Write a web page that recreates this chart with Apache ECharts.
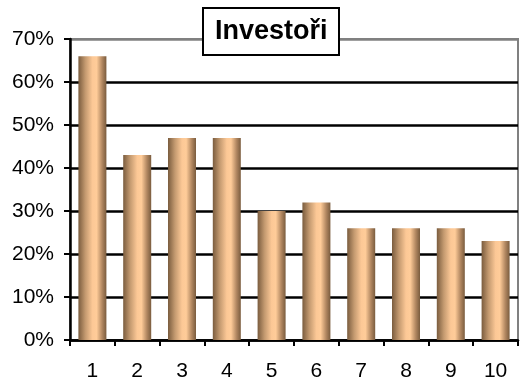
<!DOCTYPE html>
<html>
<head>
<meta charset="utf-8">
<script src="https://cdn.jsdelivr.net/npm/echarts@6/dist/echarts.min.js"></script>
<style>html,body{margin:0;padding:0;background:#fff}#c{width:521px;height:382px}</style>
</head>
<body>
<div id="c"></div>
<script>
var categories = ['1','2','3','4','5','6','7','8','9','10'];
var values = [66, 43, 47, 47, 30, 32, 26, 26, 26, 23];
var titleText = 'Investoři';

var chart = echarts.init(document.getElementById('c'), null, {renderer:'canvas'});
var font = '"Liberation Sans", Arial, sans-serif';
chart.setOption({
  animation: false,
  title: {
    text: titleText,
    left: 203, top: 8,
    padding: [10, 12, 10, 12],
    backgroundColor: '#fff',
    borderColor: '#000',
    borderWidth: 2,
    textStyle: {fontFamily: font, fontSize: 27, fontWeight: 'bold', color: '#000', width: 112, align: 'center'}
  },
  grid: {left: 70, right: 3, top: 39, bottom: 40, show: true, borderColor: '#808080', borderWidth: 2, backgroundColor: 'transparent'},
  xAxis: {
    type: 'category', data: categories, boundaryGap: true,
    axisLine: {lineStyle: {color: '#000', width: 2.5}},
    axisTick: {show: true, length: 6, alignWithLabel: false, lineStyle: {color: '#000', width: 2}},
    axisLabel: {fontFamily: font, fontSize: 21, color: '#000', margin: 21}
  },
  yAxis: {
    type: 'value', min: 0, max: 70, interval: 10,
    axisLine: {show: true, lineStyle: {color: '#000', width: 2.5}},
    axisTick: {show: true, length: 6, lineStyle: {color: '#000', width: 2}},
    axisLabel: {fontFamily: font, fontSize: 21, color: '#000', margin: 16, formatter: '{value}%'},
    splitLine: {show: true, lineStyle: {color: ['#000','#000','#000','#000','#000','#000','#000','#808080'], width: 2.5}}
  },
  series: [{
    type: 'bar', data: values, barWidth: 28,
    itemStyle: {
      color: new echarts.graphic.LinearGradient(0, 0, 1, 0, [
        {offset: 0, color: '#7a5c3e'},
        {offset: 0.25, color: '#c49a70'},
        {offset: 0.5, color: '#fcc896'},
        {offset: 0.65, color: '#ffcc99'},
        {offset: 0.85, color: '#b08660'},
        {offset: 1, color: '#7a5c3e'}
      ])
    }
  }]
});
</script>
</body>
</html>
